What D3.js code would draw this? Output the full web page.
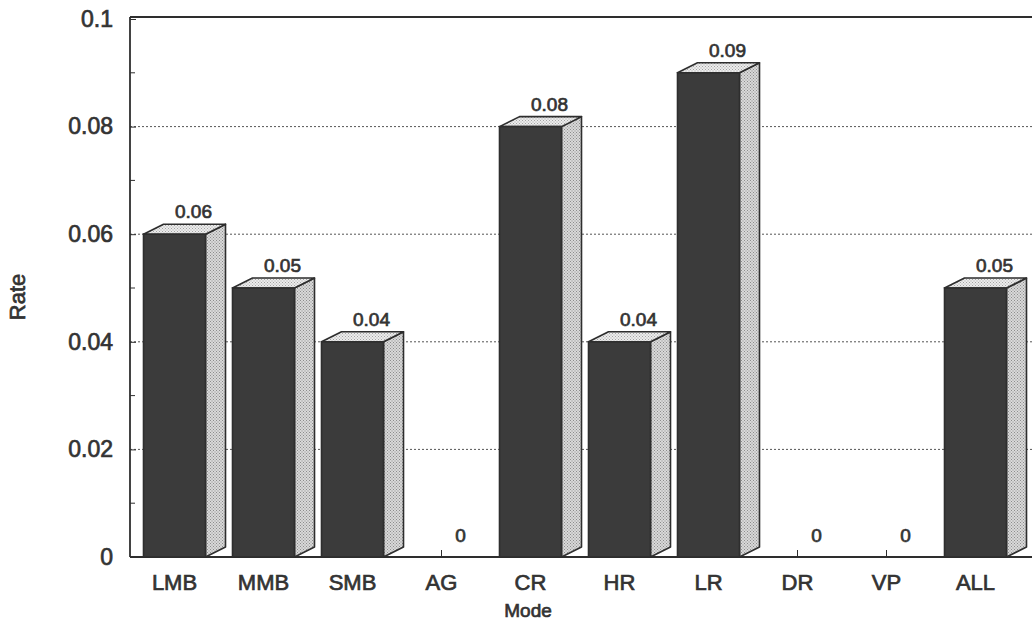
<!DOCTYPE html>
<html>
<head>
<meta charset="utf-8">
<script src="https://cdn.jsdelivr.net/npm/d3@7"></script>
<style>
  html, body { margin: 0; padding: 0; background: #fff; }
  svg { display: block; font-family: "Liberation Sans", Arial, sans-serif; }
  .lbl { stroke: #333; stroke-width: 0.7px; paint-order: fill; }
</style>
</head>
<body>
<svg id="chart" width="1032" height="623"></svg>
<script>
// Rate by mode
const categories = ["LMB", "MMB", "SMB", "AG", "CR", "HR", "LR", "DR", "VP", "ALL"];
const rates = [0.06, 0.05, 0.04, 0, 0.08, 0.04, 0.09, 0, 0, 0.05];
const yTickValues = [0, 0.02, 0.04, 0.06, 0.08, 0.1];
const yTickLabels = ["0", "0.02", "0.04", "0.06", "0.08", "0.1"];
const yMinorTicks = [0.01, 0.03, 0.05, 0.07, 0.09];

const svg = d3.select("#chart");
const plotLeft = 130, plotTop = 19, plotBottom = 557, plotRight = 1045;
const step = 89;

const x = d3.scaleBand().domain(categories).range([plotLeft, plotLeft + step * categories.length]).padding(0);
const y = d3.scaleLinear().domain([0, 0.1]).range([plotBottom, plotTop]);

const frontW = 62, dx = 20, dy = -10;
const ink = "#2e2e2e";
const textInk = "#333";
const font = "'Liberation Sans', Arial, sans-serif";

// fill patterns for the lit faces of the boxes
const defs = svg.append("defs");
function dots(id, bg, dot) {
  const p = defs.append("pattern").attr("id", id).attr("width", 3).attr("height", 3)
    .attr("patternUnits", "userSpaceOnUse");
  p.append("rect").attr("width", 3).attr("height", 3).attr("fill", bg);
  p.append("rect").attr("x", 0).attr("y", 0).attr("width", 1).attr("height", 1).attr("fill", dot);
  p.append("rect").attr("x", 1.5).attr("y", 1.5).attr("width", 1).attr("height", 1).attr("fill", dot);
}
dots("sidePat", "#d9d9d9", "#8c8c8c");
dots("topPat", "#ececec", "#a4a4a4");

// dotted grid lines
svg.append("g").selectAll("line").data(yTickValues.filter(v => v > 0 && v < 0.1)).join("line")
  .attr("x1", plotLeft).attr("x2", plotRight)
  .attr("y1", d => y(d)).attr("y2", d => y(d))
  .attr("stroke", "#555").attr("stroke-width", 1).attr("stroke-dasharray", "2,2");

// frame: left axis, top and bottom lines
svg.append("line").attr("x1", plotLeft).attr("x2", plotLeft).attr("y1", plotTop - 2).attr("y2", plotBottom)
  .attr("stroke", ink).attr("stroke-width", 1.8);
svg.append("line").attr("x1", plotLeft).attr("x2", plotRight).attr("y1", plotTop - 2).attr("y2", plotTop - 2)
  .attr("stroke", ink).attr("stroke-width", 1.8);
svg.append("line").attr("x1", plotLeft).attr("x2", plotRight).attr("y1", plotBottom).attr("y2", plotBottom)
  .attr("stroke", ink).attr("stroke-width", 1.8);

// y axis: inward ticks, labels on the outside
const yAxis = d3.axisLeft(y).tickValues(yTickValues)
  .tickFormat((d, i) => yTickLabels[i]).tickSizeInner(-6).tickSizeOuter(0).tickPadding(17);
const gy = svg.append("g").attr("transform", `translate(${plotLeft},0)`).call(yAxis);
gy.select(".domain").remove();
gy.selectAll(".tick line").attr("stroke", ink);
gy.selectAll(".tick text").attr("class", "lbl").attr("font-size", 23)
  .attr("fill", textInk).attr("font-family", font);
svg.append("g").selectAll("line").data(yMinorTicks).join("line")
  .attr("x1", plotLeft).attr("x2", plotLeft + 5)
  .attr("y1", d => y(d)).attr("y2", d => y(d)).attr("stroke", ink);

// x axis: inward ticks at category centres
const xAxis = d3.axisBottom(x).tickSizeInner(-7).tickSizeOuter(0);
const gx = svg.append("g").attr("transform", `translate(0,${plotBottom})`).call(xAxis);
gx.select(".domain").remove();
gx.selectAll(".tick line").attr("stroke", ink);
gx.selectAll(".tick text").attr("y", 33).attr("dy", 0).attr("class", "lbl")
  .attr("font-size", 22).attr("fill", textInk).attr("font-family", font);

// 3D boxes
const data = categories.map((c, i) => ({ c, v: rates[i] }));
const bars = svg.append("g").selectAll("g").data(data.filter(d => d.v > 0)).join("g");
bars.each(function (d) {
  const g = d3.select(this);
  const cx = x(d.c) + x.bandwidth() / 2;
  const x0 = cx - frontW / 2, x1 = cx + frontW / 2;
  const yt = y(d.v), yb = y(0);
  g.append("polygon")
    .attr("points", [[x1, yt], [x1 + dx, yt + dy], [x1 + dx, yb + dy], [x1, yb]].join(" "))
    .attr("fill", "url(#sidePat)").attr("stroke", ink).attr("stroke-width", 1.6).attr("stroke-linejoin", "round");
  g.append("polygon")
    .attr("points", [[x0, yt], [x0 + dx, yt + dy], [x1 + dx, yt + dy], [x1, yt]].join(" "))
    .attr("fill", "url(#topPat)").attr("stroke", ink).attr("stroke-width", 1.6).attr("stroke-linejoin", "round");
  g.append("rect").attr("x", x0).attr("y", yt).attr("width", frontW).attr("height", yb - yt)
    .attr("fill", "#3b3b3b").attr("stroke", ink).attr("stroke-width", 1.6);
});

// value labels
svg.append("g").selectAll("text").data(data).join("text")
  .attr("class", "lbl")
  .attr("x", d => x(d.c) + x.bandwidth() / 2 + 19)
  .attr("y", d => d.v > 0 ? y(d.v) + dy - 6 : y(0) - 15)
  .attr("text-anchor", "middle").attr("font-size", 19).attr("fill", textInk)
  .text(d => d.v > 0 ? d3.format(".2f")(d.v) : "0");

// axis titles
svg.append("text").attr("class", "lbl").attr("transform", "translate(25,297) rotate(-90)")
  .attr("text-anchor", "middle").attr("font-size", 22).attr("fill", textInk).text("Rate");
svg.append("text").attr("class", "lbl").attr("x", 528).attr("y", 617)
  .attr("text-anchor", "middle").attr("font-size", 19).attr("fill", textInk).text("Mode");
</script>
</body>
</html>
